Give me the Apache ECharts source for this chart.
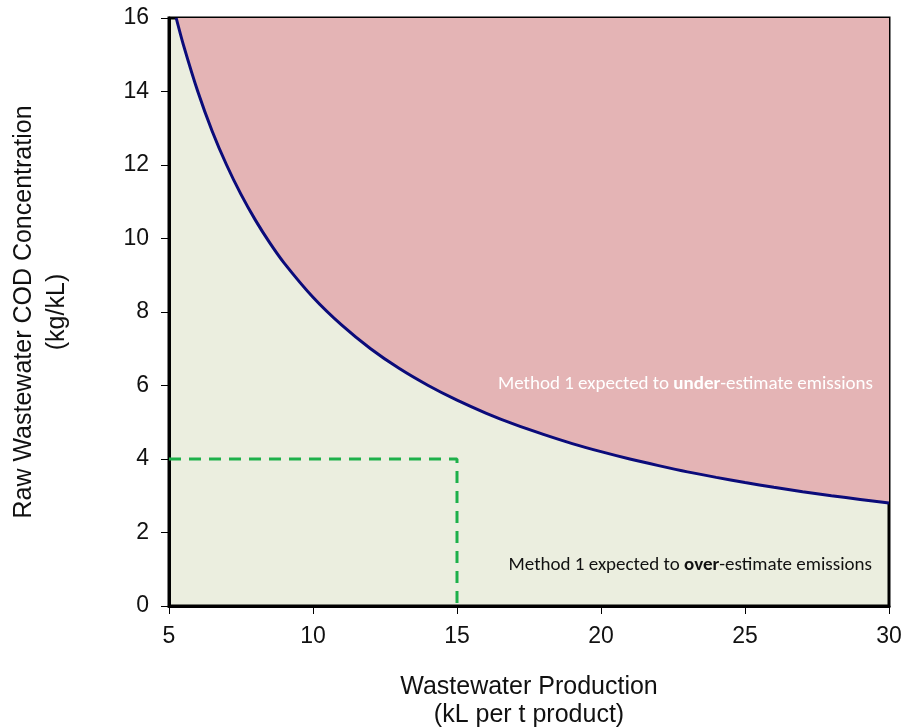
<!DOCTYPE html>
<html>
<head>
<meta charset="utf-8">
<script src="https://cdn.jsdelivr.net/npm/echarts@6/dist/echarts.min.js"></script>
<style>html,body{margin:0;padding:0;background:#fff}#c{width:902px;height:727px}</style>
</head>
<body>
<div id="c"></div>
<script>
var production = [5.25, 5.5, 6, 6.5, 7, 7.5, 8, 8.5, 9, 10, 11, 12, 13, 14, 15, 16, 17, 18, 19, 20, 21, 22, 23, 24, 25, 26, 27, 28, 29, 30];
var codConc = [16, 15.27, 14, 12.92, 12, 11.2, 10.5, 9.88, 9.33, 8.4, 7.64, 7.0, 6.46, 6.0, 5.6, 5.25, 4.94, 4.67, 4.42, 4.2, 4.0, 3.82, 3.65, 3.5, 3.36, 3.23, 3.11, 3.0, 2.9, 2.8];
var refX = [5, 15, 15];
var refY = [4, 4, 0];
var xTicks = [5, 10, 15, 20, 25, 30];
var yTicks = [0, 2, 4, 6, 8, 10, 12, 14, 16];

var curve = production.map(function (x, i) { return [x, codConc[i]]; });
var ref = refX.map(function (x, i) { return [x, refY[i]]; });

var noteFont = 'Carlito, Lato, sans-serif';

var chart = echarts.init(document.getElementById('c'));
chart.setOption({
  animation: false,
  grid: {
    left: 169, right: 13, top: 18, bottom: 121,
    outerBoundsMode: 'none', containLabel: false,
    show: true, backgroundColor: '#EBEEDF', borderColor: '#000', borderWidth: 3
  },
  xAxis: {
    type: 'value', min: 5, max: 30, interval: 5,
    name: 'Wastewater Production\n(kL per t product)',
    nameLocation: 'middle', nameGap: 67,
    nameTextStyle: { fontFamily: 'Liberation Sans', fontSize: 25, color: '#111', lineHeight: 28 },
    axisLine: { lineStyle: { color: '#000', width: 3 } },
    axisTick: { show: true, length: 8, lineStyle: { color: '#000', width: 1 } },
    axisLabel: { fontFamily: 'Liberation Sans', fontSize: 23, color: '#111', margin: 19 },
    splitLine: { show: false }
  },
  yAxis: {
    type: 'value', min: 0, max: 16, interval: 2,
    name: 'Raw Wastewater COD Concentration\n(kg/kL)',
    nameLocation: 'middle', nameGap: 95, nameRotate: 90,
    nameTextStyle: { fontFamily: 'Liberation Sans', fontSize: 25, color: '#111', lineHeight: 33 },
    axisLine: { lineStyle: { color: '#000', width: 3 } },
    axisTick: { show: true, length: 8, lineStyle: { color: '#000', width: 1 } },
    axisLabel: { fontFamily: 'Liberation Sans', fontSize: 23, color: '#111', margin: 20 },
    splitLine: { show: false }
  },
  series: [
    {
      type: 'line', data: curve, smooth: 0.3, symbol: 'none',
      lineStyle: { color: '#0B0B7A', width: 3 },
      areaStyle: { origin: 'end', color: '#E4B4B5', opacity: 1 },
      z: 2
    },
    {
      type: 'line', data: ref, symbol: 'none',
      lineStyle: { color: '#1DB04A', width: 3, type: [12, 8] },
      z: 3
    }
  ],
  graphic: [
    {
      type: 'text', x: 873, y: 384, z: 100,
      style: {
        align: 'right', verticalAlign: 'middle',
        text: '{n|Method 1 expected to }{b|under}{n|-estimate emissions}',
        rich: {
          n: { fontFamily: noteFont, fontSize: 19, fill: '#fff', color: '#fff' },
          b: { fontFamily: noteFont, fontSize: 19, fill: '#fff', color: '#fff', fontWeight: 'bold' }
        }
      }
    },
    {
      type: 'text', x: 872, y: 565, z: 100,
      style: {
        align: 'right', verticalAlign: 'middle',
        text: '{n|Method 1 expected to }{b|over}{n|-estimate emissions}',
        rich: {
          n: { fontFamily: noteFont, fontSize: 19, fill: '#111', color: '#111' },
          b: { fontFamily: noteFont, fontSize: 19, fill: '#111', color: '#111', fontWeight: 'bold' }
        }
      }
    }
  ]
});
</script>
</body>
</html>
